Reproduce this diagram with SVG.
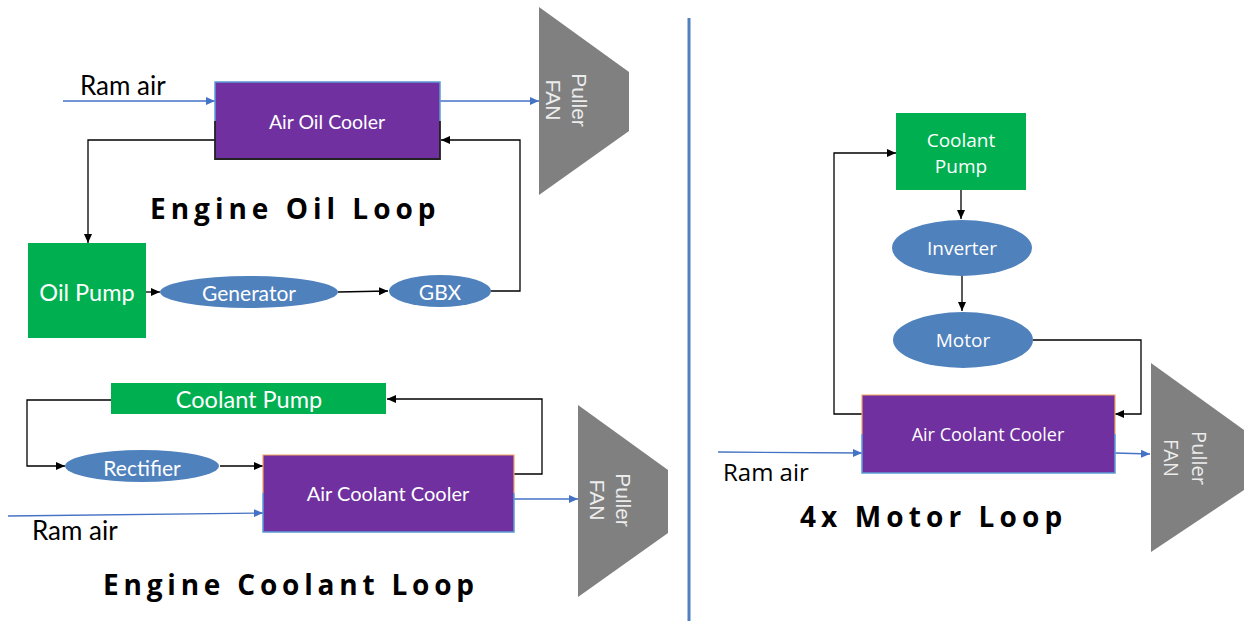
<svg xmlns="http://www.w3.org/2000/svg" width="1244" height="621" viewBox="0 0 1244 621">
<style>
.cal{font-family:Lato,"Liberation Sans",sans-serif;fill:#ffffff;text-anchor:middle;dominant-baseline:central}
.seg{font-family:"Open Sans","Liberation Sans",sans-serif;fill:#ffffff;text-anchor:middle;dominant-baseline:central}
.ram{font-family:Lato,"Liberation Sans",sans-serif;fill:#000;font-size:26px}
.title{font-family:"Open Sans","Liberation Sans",sans-serif;font-weight:700;font-size:28px;fill:#000;letter-spacing:5px}
.fan{fill:#808080}
.fantxt{font-family:"Liberation Sans",Arial,sans-serif;font-size:21px;fill:#ececec;text-anchor:middle}
.purple{fill:#7030A0}
.green{fill:#00B050}
.ell{fill:#4F81BD}
.k{stroke:#000;stroke-width:1.3;fill:none}
.b{stroke:#4472C4;stroke-width:1.3;fill:none}
</style>
<defs>
<marker id="ak" markerWidth="10" markerHeight="10" refX="9" refY="5" orient="auto" markerUnits="userSpaceOnUse"><path d="M0,1 L9,5 L0,9 Z" fill="#000"/></marker>
<marker id="ab" markerWidth="10" markerHeight="10" refX="9" refY="5" orient="auto" markerUnits="userSpaceOnUse"><path d="M0,1 L9,5 L0,9 Z" fill="#4472C4"/></marker>
</defs>
<rect width="1244" height="621" fill="#ffffff"/>

<line x1="689" y1="18" x2="689" y2="621" stroke="#4F81BD" stroke-width="3"/>

<g id="connectors">
<line class="b" x1="63" y1="101" x2="215" y2="101" marker-end="url(#ab)"/>
<line class="b" x1="440" y1="101" x2="539" y2="101" marker-end="url(#ab)"/>
<polyline class="k" points="215,140 88,140 88,243" marker-end="url(#ak)"/>
<line class="k" x1="146" y1="292" x2="160" y2="292" marker-end="url(#ak)"/>
<line class="k" x1="338" y1="292" x2="388" y2="291" marker-end="url(#ak)"/>
<polyline class="k" points="491,291 520,291 520,140 441,140" marker-end="url(#ak)"/>

<polyline class="k" points="111,400 27,400 27,466 65,466" marker-end="url(#ak)"/>
<line class="k" x1="220" y1="466" x2="263" y2="466" marker-end="url(#ak)"/>
<polyline class="k" points="514,474 542,474 542,399 387,399" marker-end="url(#ak)"/>
<line class="b" x1="8" y1="516" x2="263" y2="513" marker-end="url(#ab)"/>
<line class="b" x1="514" y1="499" x2="578" y2="499" marker-end="url(#ab)"/>

<line class="k" x1="961" y1="190" x2="961" y2="219" marker-end="url(#ak)"/>
<line class="k" x1="962" y1="276" x2="962" y2="311" marker-end="url(#ak)"/>
<polyline class="k" points="1033,340 1141,340 1141,414 1115,414" marker-end="url(#ak)"/>
<polyline class="k" points="862,414 834,414 834,153 896,153" marker-end="url(#ak)"/>
<line class="b" x1="718" y1="452" x2="862" y2="453" marker-end="url(#ab)"/>
<line class="b" x1="1115" y1="453" x2="1150" y2="454" marker-end="url(#ab)"/>
</g>

<text class="ram" x="80" y="95">Ram air</text>
<text class="ram" x="32" y="540">Ram air</text>
<text class="ram" x="723" y="481" style="font-family:'Open Sans','Liberation Sans',sans-serif;font-size:24px">Ram air</text>

<g id="air-oil-cooler">
<rect class="purple" x="215" y="82" width="225" height="77"/>
<polyline points="215,121 215,82 440,82 440,121" fill="none" stroke="#5B9BD5" stroke-width="1.5"/>
<polyline points="215,121 215,159 440,159 440,121" fill="none" stroke="#222" stroke-width="1.8"/>
<text class="cal" x="327" y="121" font-size="19.5">Air Oil Cooler</text>
</g>

<g id="fan1">
<polygon class="fan" points="539,7 629,72 629,131 539,195"/>
<text class="fantxt" transform="translate(568,100) rotate(90)"><tspan x="0" y="-4">Puller</tspan><tspan x="0" y="22">FAN</tspan></text>
</g>

<g id="oil-pump">
<rect class="green" x="28" y="243" width="118" height="95"/>
<text class="cal" x="87" y="292" font-size="23.5">Oil Pump</text>
</g>

<g id="generator">
<ellipse class="ell" cx="249" cy="292" rx="89" ry="16"/>
<text class="cal" x="249" y="292" font-size="21">Generator</text>
</g>

<g id="gbx">
<ellipse class="ell" cx="440" cy="291" rx="51" ry="16"/>
<text class="cal" x="440" y="291" font-size="21">GBX</text>
</g>

<text class="title" x="150" y="219">Engine Oil Loop</text>

<g id="coolant-pump-1">
<rect class="green" x="111" y="383" width="275" height="31"/>
<text class="cal" x="249" y="399" font-size="23.5">Coolant Pump</text>
</g>

<g id="rectifier">
<ellipse class="ell" cx="142" cy="466" rx="77" ry="16"/>
<text class="cal" x="142" y="467" font-size="21">Rectifier</text>
</g>

<g id="air-coolant-cooler-1">
<rect class="purple" x="263" y="455" width="251" height="77"/>
<polyline points="263,493 263,455 514,455 514,493" fill="none" stroke="#F4A460" stroke-width="1.2"/>
<polyline points="263,493 263,532 514,532 514,493" fill="none" stroke="#5B9BD5" stroke-width="1.5"/>
<text class="cal" x="388" y="493" font-size="20">Air Coolant Cooler</text>
</g>

<g id="fan2">
<polygon class="fan" points="578,405 668,470 668,533 578,597"/>
<text class="fantxt" transform="translate(612,500) rotate(90)"><tspan x="0" y="-4">Puller</tspan><tspan x="0" y="22">FAN</tspan></text>
</g>

<text class="title" x="103" y="595" style="letter-spacing:4.8px">Engine Coolant Loop</text>

<g id="coolant-pump-2">
<rect class="green" x="896" y="113" width="130" height="77"/>
<text class="seg" x="961" y="140" font-size="19">Coolant</text>
<text class="seg" x="961" y="166" font-size="19">Pump</text>
</g>

<g id="inverter">
<ellipse class="ell" cx="962" cy="248" rx="70" ry="28"/>
<text class="seg" x="962" y="248" font-size="19">Inverter</text>
</g>

<g id="motor">
<ellipse class="ell" cx="963" cy="340" rx="70" ry="28"/>
<text class="seg" x="963" y="340" font-size="19">Motor</text>
</g>

<g id="air-coolant-cooler-2">
<rect class="purple" x="862" y="395" width="253" height="78"/>
<polyline points="862,434 862,395 1115,395 1115,434" fill="none" stroke="#F4A460" stroke-width="1.2"/>
<polyline points="862,434 862,473 1115,473 1115,434" fill="none" stroke="#5B9BD5" stroke-width="1.5"/>
<text class="seg" x="988" y="434" font-size="18">Air Coolant Cooler</text>
</g>

<g id="fan3">
<polygon class="fan" points="1151,363 1244,430 1244,490 1151,552"/>
<text class="fantxt" transform="translate(1188,458) rotate(90)" style="font-family:'Open Sans','Liberation Sans',sans-serif;font-size:20px"><tspan x="0" y="-4">Puller</tspan><tspan x="0" y="24">FAN</tspan></text>
</g>

<text class="title" x="800" y="527" style="letter-spacing:5.1px">4x Motor Loop</text>
</svg>
